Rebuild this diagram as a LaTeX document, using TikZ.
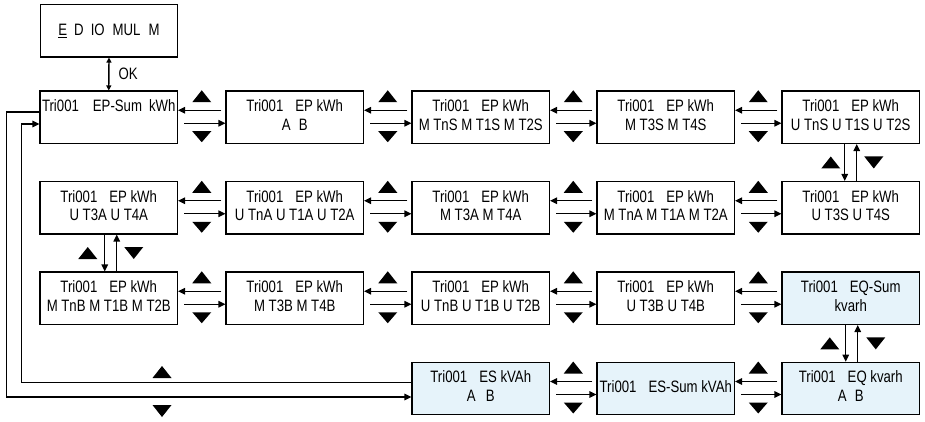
\documentclass[tikz,border=0pt]{standalone}
\usepackage{fontspec}
\setmainfont{Liberation Sans}[FakeStretch=0.8]
\usetikzlibrary{arrows.meta,calc}
\definecolor{lcdblue}{RGB}{230,243,250}
\tikzset{
  lcd/.style={draw=black,line width=1.1pt,fill=white,minimum width=137.5pt,minimum height=52.5pt,inner sep=0pt,align=center,font=\fontsize{16.5}{18.5}\selectfont},
  lcdb/.style={lcd,fill=lcdblue},
  arr/.style={line width=1.4pt,-{Triangle[length=7pt,width=6.5pt]}},
  arrok/.style={line width=1.4pt,{Triangle[length=5pt,width=5pt]}-{Triangle[length=5pt,width=5pt]}},
  lbl/.style={font=\fontsize{16.5}{18}\selectfont,inner sep=0pt}
}
\newcommand\gap{\hspace{12pt}}
\newcommand\mkhpair[2]{%
  \draw[arr] ($(#2.west)+(-4,-7)$) -- ($(#1.east)+(0,-7)$);
  \draw[arr] ($(#1.east)+(6,6)$) -- ($(#2.west)+(0,6)$);
  \fill ($($(#1.east)!0.5!(#2.west)$)+(-9.5,-15)$) -- ++(19,0) -- ++(-9.5,-12) -- cycle;
  \fill ($($(#1.east)!0.5!(#2.west)$)+(-9.5,14)$) -- ++(19,0) -- ++(-9.5,11) -- cycle;
}
% #1 upper, #2 lower, #3 down-arrow dx, #4 up-arrow dx, #5 up-tri dx, #6 down-tri dx
\newcommand\mkvpair[6]{%
  \draw[arr] ($(#1.south)+(#3,0)$) -- ($(#2.north)+(#3,0)$);
  \draw[arr] ($(#2.north)+(#4,0)$) -- ($(#1.south)+(#4,0)$);
  \fill ($($(#1.south)!0.5!(#2.north)$)+(#5-9.5,6)$) -- ++(19,0) -- ++(-9.5,-12) -- cycle;
  \fill ($($(#1.south)!0.5!(#2.north)$)+(#6-9.5,-6)$) -- ++(19,0) -- ++(-9.5,12) -- cycle;
}
\begin{document}
\begin{tikzpicture}[x=1pt,y=-1pt]
\useasboundingbox (0,0) rectangle (925,422);
% top menu
\node[lcd] (menu) at (109,30.75) {\underline{E}\hspace{7pt}D\hspace{7pt}IO\hspace{8pt}MUL\hspace{8pt}M};
% row 1
\node[lcd] (b11) at (108.75,117.25) {\strut Tri001\hspace{14pt}EP-Sum\hspace{7pt}kWh\\\strut};
\node[lcd] (b12) at (294.75,117.25) {\strut Tri001\gap EP kWh\\\strut A\hspace{8pt}B};
\node[lcd] (b13) at (480.75,117.25) {\strut Tri001\gap EP kWh\\\strut M TnS M T1S M T2S};
\node[lcd] (b14) at (665.75,117.25) {\strut Tri001\gap EP kWh\\\strut M T3S M T4S};
\node[lcd] (b15) at (850.75,117.25) {\strut Tri001\gap EP kWh\\\strut U TnS U T1S U T2S};
% row 2
\node[lcd] (b21) at (108.75,207.75) {\strut Tri001\gap EP kWh\\\strut U T3A U T4A};
\node[lcd] (b22) at (294.75,207.75) {\strut Tri001\gap EP kWh\\\strut U TnA U T1A U T2A};
\node[lcd] (b23) at (480.75,207.75) {\strut Tri001\gap EP kWh\\\strut M T3A M T4A};
\node[lcd] (b24) at (665.75,207.75) {\strut Tri001\gap EP kWh\\\strut M TnA M T1A M T2A};
\node[lcd] (b25) at (850.75,207.75) {\strut Tri001\gap EP kWh\\\strut U T3S U T4S};
% row 3
\node[lcd] (b31) at (108.75,298.25) {\strut Tri001\gap EP kWh\\\strut M TnB M T1B M T2B};
\node[lcd] (b32) at (294.75,298.25) {\strut Tri001\gap EP kWh\\\strut M T3B M T4B};
\node[lcd] (b33) at (480.75,298.25) {\strut Tri001\gap EP kWh\\\strut U TnB U T1B U T2B};
\node[lcd] (b34) at (665.75,298.25) {\strut Tri001\gap EP kWh\\\strut U T3B U T4B};
\node[lcdb] (b35) at (850.75,298.25) {\strut Tri001\gap EQ-Sum\\\strut kvarh};
% row 4
\node[lcdb] (b43) at (480.75,388.5) {\strut Tri001\gap ES kVAh\\\strut A\hspace{10pt}B};
\node[lcdb] (b44) at (665.75,388.5) {\raisebox{4pt}{Tri001\gap ES-Sum kVAh}};
\node[lcdb] (b45) at (850.75,388.5) {\strut Tri001\gap EQ kvarh\\\strut A\hspace{8pt}B};
% OK link
\draw[arrok] (menu.south) -- (b11.north) node[midway,right=9pt,lbl] (ok) {OK};
% horizontal pairs
\mkhpair{b11}{b12}\mkhpair{b12}{b13}\mkhpair{b13}{b14}\mkhpair{b14}{b15}
\mkhpair{b21}{b22}\mkhpair{b22}{b23}\mkhpair{b23}{b24}\mkhpair{b24}{b25}
\mkhpair{b31}{b32}\mkhpair{b32}{b33}\mkhpair{b33}{b34}\mkhpair{b34}{b35}
\mkhpair{b43}{b44}\mkhpair{b44}{b45}
% vertical pairs
\mkvpair{b15}{b25}{-6}{6}{-20}{23}
\mkvpair{b21}{b31}{-4}{8}{-21}{25}
\mkvpair{b35}{b45}{-5}{7}{-21}{25}
% feedback loop
\draw[arr] ($(b11.west)+(0,-5.25)$) -- ++(-33,0) |- ($(b43.west)+(0,8.5)$);
\draw[arr] ($(b43.west)+(0,-6)$) -| ($(b11.west)+(-18,6.75)$) -- ($(b11.west)+(0,6.75)$);
\fill (152.5,378) -- ++(19,0) -- ++(-9.5,-12) -- cycle;
\fill (152.5,405) -- ++(19,0) -- ++(-9.5,12) -- cycle;
\end{tikzpicture}
\end{document}
